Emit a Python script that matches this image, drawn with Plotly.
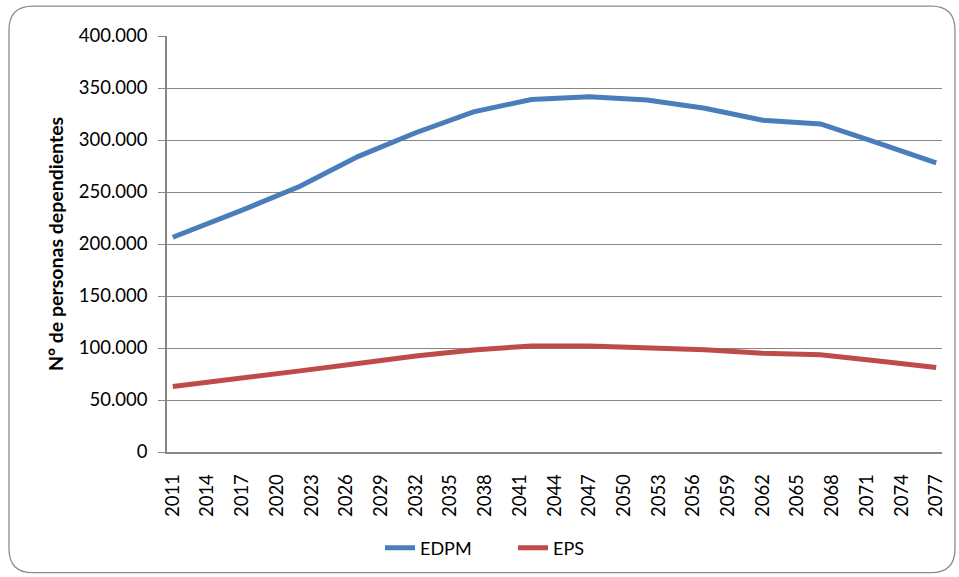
import plotly.graph_objects as go

# Data (knot years; x-axis labelled every 3 years)
years = [2011, 2017, 2022, 2027, 2032, 2037, 2042, 2047, 2052, 2057, 2062, 2067, 2072, 2077]
edpm = [206500, 232500, 255500, 284000, 307000, 327000, 339000, 341500, 338500, 330500, 319000, 315500, 297000, 278000]
eps = [63000, 70700, 78000, 85000, 92400, 98100, 102000, 102000, 100400, 98200, 95000, 93400, 87600, 81200]
tick_years = list(range(2011, 2078, 3))
tick_labels = [str(y) for y in tick_years]

W, H = 959, 577
L, R, T, B = 167, 942, 36, 453

fig = go.Figure()
fig.add_trace(go.Scatter(x=years, y=edpm, mode="lines", name="EDPM",
                         line=dict(color="#4A7EBB", width=5)))
fig.add_trace(go.Scatter(x=years, y=eps, mode="lines", name="EPS",
                         line=dict(color="#BE4B48", width=5)))

def px(x):
    return (x - L) / (R - L)

def py(y):
    return (B - y) / (B - T)

# rounded chart frame
x0, y0, x1, y1, r = 9, 6, 955, 574, 24
path = (f"M {px(x0+r)},{py(y0)} L {px(x1-r)},{py(y0)} Q {px(x1)},{py(y0)} {px(x1)},{py(y0+r)} "
        f"L {px(x1)},{py(y1-r)} Q {px(x1)},{py(y1)} {px(x1-r)},{py(y1)} "
        f"L {px(x0+r)},{py(y1)} Q {px(x0)},{py(y1)} {px(x0)},{py(y1-r)} "
        f"L {px(x0)},{py(y0+r)} Q {px(x0)},{py(y0)} {px(x0+r)},{py(y0)} Z")

fig.update_layout(
    width=W, height=H,
    margin=dict(l=L, r=W - R, t=T, b=H - B),
    paper_bgcolor="white", plot_bgcolor="white",
    separators=",.",
    font=dict(family="Lato, 'Open Sans', sans-serif", size=18, color="black"),
    showlegend=True,
    legend=dict(orientation="h", x=px(380), xanchor="left", y=py(548), yanchor="middle",
                font=dict(size=18), entrywidth=88, entrywidthmode="pixels", tracegroupgap=0,
                bgcolor="rgba(0,0,0,0)"),
    shapes=[dict(type="path", xref="paper", yref="paper", path=path,
                 line=dict(color="#8C8C8C", width=1.3), fillcolor="rgba(0,0,0,0)", layer="below")],
    xaxis=dict(range=[2010.5, 2077.5], tickmode="array", tickvals=tick_years, ticktext=tick_labels,
               tickangle=-90, showgrid=False, showline=True, linecolor="#868686", linewidth=1.5,
               ticks="", ticklabelstandoff=13, zeroline=False, tickfont=dict(size=18.5)),
    yaxis=dict(range=[0, 400000], dtick=50000, tickformat=",d", showgrid=True,
               gridcolor="#868686", gridwidth=1.2, showline=True, linecolor="#868686", linewidth=1.5,
               ticks="outside", ticklen=7, tickcolor="#868686", ticklabelstandoff=7, zeroline=False,
               tickfont=dict(size=18.5),
               title=dict(text="<b>N° de personas dependientes</b>", font=dict(size=19.5), standoff=10)),
)

fig.write_html("out.html", config={"displayModeBar": False},
               post_script="document.body.style.margin='0';")
